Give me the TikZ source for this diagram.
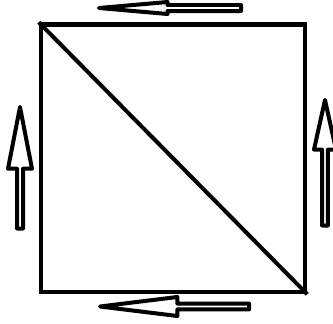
\documentclass[tikz,border=0pt]{standalone}
\usetikzlibrary{shapes.arrows}

\begin{document}
\begin{tikzpicture}[x=1pt, y=-1pt,
    frame/.style={draw=black, line width=4.5pt, inner sep=0pt},
    flowarrow/.style={single arrow, draw=black, line width=4pt, line join=round,
                      inner sep=0pt, outer sep=0pt, anchor=tip}
]
    \useasboundingbox (0,0) rectangle (333,324);

    % square and its diagonal
    \node[frame, minimum width=264pt, minimum height=267.5pt] (sq) at (173,158.25) {};
    \draw[line width=4pt] (sq.north west) -- (sq.south east);

    % hollow arrows round the square, placed by their tips
    \node[flowarrow, rotate=180, minimum height=142pt, minimum width=12pt,
          single arrow head extend=2pt, single arrow tip angle=10] (atop) at (99,8) {};
    \node[flowarrow, rotate=180, minimum height=149pt, minimum width=19pt,
          single arrow head extend=4.5pt, single arrow tip angle=14] (abot) at (100,306.5) {};
    \node[flowarrow, rotate=90, minimum height=121.5pt, minimum width=24pt,
          single arrow head extend=6pt, single arrow tip angle=22] (aleft) at (20,107) {};
    \node[flowarrow, rotate=90, minimum height=125.5pt, minimum width=22pt,
          single arrow head extend=5.5pt, single arrow tip angle=25] (aright) at (325,100) {};
\end{tikzpicture}
\end{document}
